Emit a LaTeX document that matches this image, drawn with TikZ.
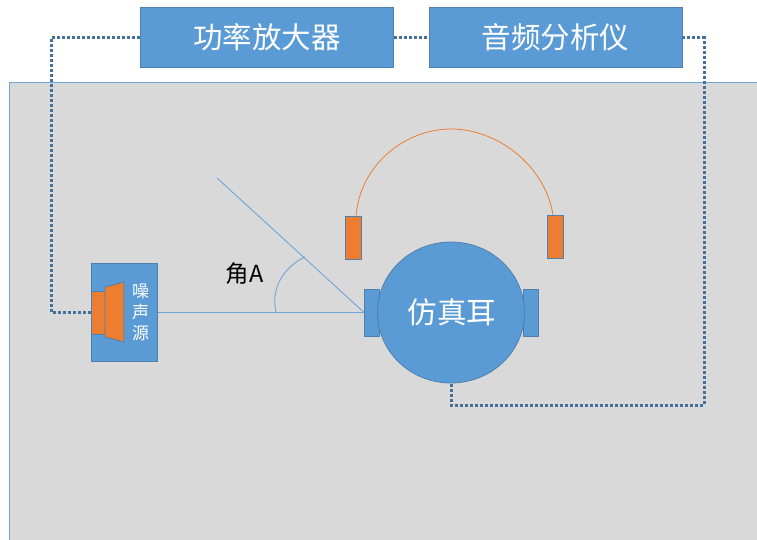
\documentclass[tikz,border=0pt]{standalone}
\usepackage{fontspec}
\usetikzlibrary{shapes.geometric}
\newfontfamily\cjk{Noto Sans CJK SC}
\definecolor{bluefill}{HTML}{5B9BD5}
\definecolor{blueedge}{HTML}{4F7FAD}
\definecolor{orangefill}{HTML}{ED7D31}
\definecolor{roomgray}{HTML}{D9D9D9}
\definecolor{dotblue}{HTML}{44709A}
\definecolor{thinblue}{HTML}{6FA5DA}
\tikzset{
  bluebox/.style={draw=blueedge,line width=0.8pt,fill=bluefill,inner sep=0pt,anchor=north west},
  orangebox/.style={draw=blueedge,line width=0.8pt,fill=orangefill,inner sep=0pt,anchor=north west},
  bigtext/.style={text=white,font=\cjk\fontsize{29.5}{32}\selectfont},
  wire/.style={draw=dotblue,line width=3pt,dash pattern=on 2.8pt off 2.2pt},
  thinline/.style={draw=thinblue,line width=0.9pt}
}
\begin{document}
\begin{tikzpicture}[x=1pt,y=-1pt]
\useasboundingbox (0,0) rectangle (757,540);
\fill[white] (0,0) rectangle (757,540);
% room
\fill[roomgray] (9.5,82) rectangle (757,540);
\draw[thinline,line width=0.8pt] (757,82) -- (9.5,82) -- (9.5,540);
% coordinates
\coordinate (lcorner) at (51,38);
\coordinate (lbot) at (51,312);
\coordinate (rcorner) at (704,38);
\coordinate (rbot) at (704,405);
\coordinate (mbot) at (451,405);
\coordinate (rayend) at (217,178);
\coordinate (arcend) at (305,257);
\coordinate (arcstart) at (276,312);
\coordinate (hptop) at (451,129);
\coordinate (hpl) at (356,216);
\coordinate (hpr) at (553,215);
% nodes
\node[bluebox,bigtext,minimum width=253pt,minimum height=60pt,xshift=-0.5pt] (amp) at (140.5,7.3) {功率放大器};
\node[bluebox,bigtext,minimum width=253pt,minimum height=60pt,xshift=-0.5pt] (ana) at (429,7.3) {音频分析仪};
\node[bluebox,minimum width=66pt,minimum height=98pt] (src) at (91,263) {};
\node[orangebox,minimum width=14pt,minimum height=43pt] (drv) at (91,290.5) {};
\node[text=white,font=\cjk\fontsize{17}{21}\selectfont,align=center,inner sep=0pt] (srct) at (140.5,312.5) {噪\\声\\源};
\node[bluebox,minimum width=15pt,minimum height=47pt] (earl) at (364,288.5) {};
\node[bluebox,minimum width=15pt,minimum height=47pt] (earr) at (522.5,288.5) {};
\node[ellipse,draw=blueedge,line width=0.8pt,fill=bluefill,inner sep=0pt,minimum width=147pt,minimum height=141pt,bigtext] (head) at (451,312.5) {\hspace{1.5pt}仿真耳};
\node[orangebox,minimum width=16pt,minimum height=42.5pt] (cupl) at (344.5,216) {};
\node[orangebox,minimum width=16.5pt,minimum height=42.5pt] (cupr) at (546.5,215) {};
\node[font=\cjk\fontsize{23.5}{25}\selectfont,inner sep=0pt] (angle) at (244.5,274) {角A};
% speaker horn
\filldraw[draw=blueedge,line width=0.8pt,fill=orangefill] (105,287) -- (124,282) -- (124,342) -- (105,337) -- cycle;
% wires
\draw[wire] (amp.west |- lcorner) -- (lcorner) -- (lbot) -- (src.west |- lbot);
\draw[wire] (amp.east |- lcorner) -- (ana.west |- lcorner);
\draw[wire] (ana.east |- rcorner) -- (rcorner) -- (rbot) -- (mbot) -- (head.south);
% thin lines
\draw[thinline] (src.east |- earl.west) -- (earl.west);
\draw[thinline] (earl.west) -- (rayend);
\draw[thinline] (arcstart) .. controls (270,288) and (285,266) .. (arcend);
% headphone band
\draw[draw=orangefill,line width=0.8pt] (hpl) .. controls (360,165) and (405,129) .. (hptop) .. controls (497,129) and (545,165) .. (hpr);
\end{tikzpicture}
\end{document}
